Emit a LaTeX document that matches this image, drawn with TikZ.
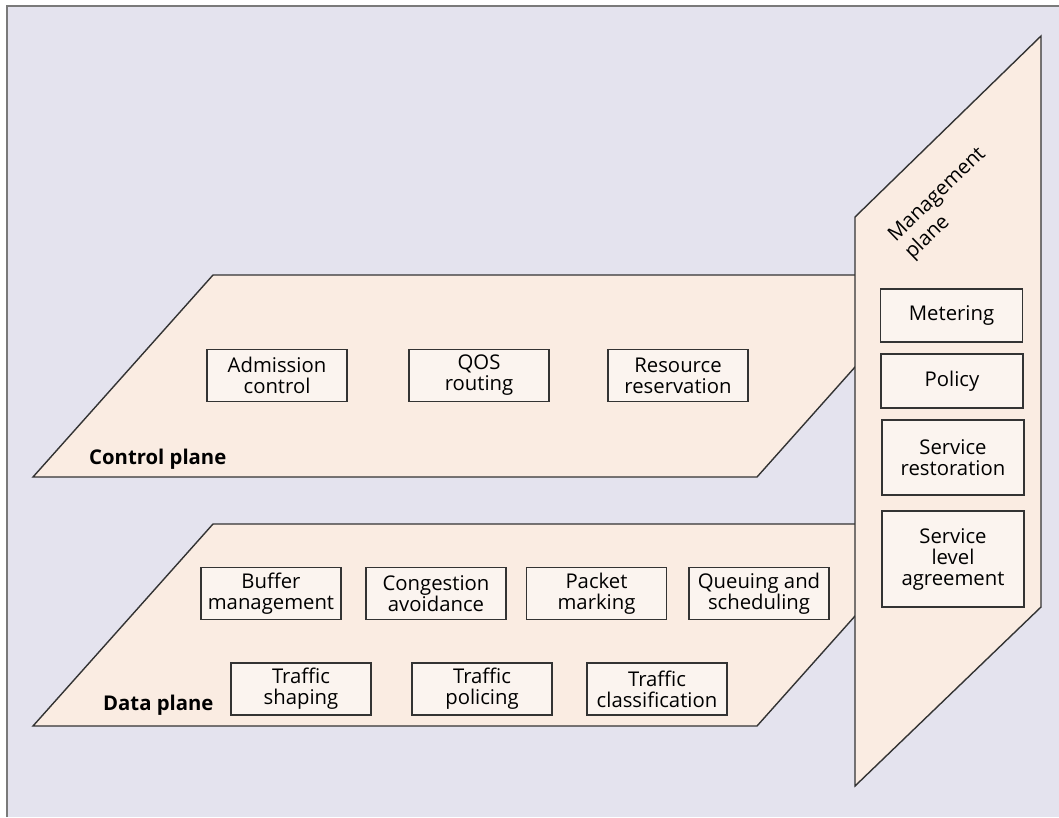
\documentclass[tikz,border=0pt]{standalone}
\usepackage{fontspec}
\setmainfont{Open Sans}
\definecolor{bgc}{HTML}{E4E3EE}
\definecolor{planec}{HTML}{FAECE2}
\definecolor{boxc}{HTML}{FBF4EF}
\definecolor{linec}{HTML}{333333}
\definecolor{framec}{HTML}{7A7A7A}
\tikzset{
  plane/.style={fill=planec, draw=linec, line width=1.4pt, line join=miter},
  fbox/.style={draw=linec, fill=boxc, line width=1.4pt, inner sep=0pt, align=center,
    minimum width=140pt, minimum height=52pt, font=\fontsize{20.3}{21}\selectfont},
  planelabel/.style={inner sep=0pt, font=\fontsize{20.3}{21}\selectfont\bfseries},
}
\begin{document}
\begin{tikzpicture}[x=1pt,y=-1pt]
\useasboundingbox (0,0) rectangle (1059,817);
\fill[bgc] (7,6) rectangle (1059,817);
\draw[framec, line width=2.5pt] (7,817) -- (7,6) -- (1059,6);

% control plane
\draw[plane] (33,477) -- (213,275) -- (937,275) -- (757,477) -- cycle;
% data plane
\draw[plane] (33,726) -- (213,524) -- (937,524) -- (757,726) -- cycle;
% management plane
\draw[plane] (855,217) -- (1041,36) -- (1041,607) -- (855,786) -- cycle;

% control plane boxes
\node[fbox] (adm) at (277,375.5) {Admission\\control};
\node[fbox] (qos) at (479,375.5) {QOS\\routing};
\node[fbox] (res) at (678,375.5) {Resource\\reservation};
\node[planelabel, anchor=base west] (cpl) at (89,464) {Control plane};

% data plane boxes
\node[fbox] (buf) at (271,593.5) {Buffer\\management};
\node[fbox] (con) at (436,593.5) {Congestion\\avoidance};
\node[fbox] (pkt) at (596.5,593.5) {Packet\\marking};
\node[fbox] (que) at (759,593.5) {Queuing and\\scheduling};
\node[fbox] (shp) at (301,689) {Traffic\\shaping};
\node[fbox] (pol) at (482,689) {Traffic\\policing};
\node[fbox] (cls) at (657,689) {Traffic\\classification};
\node[planelabel, anchor=base west] (dpl) at (103,710) {Data plane};

% management plane boxes
\node[fbox, minimum width=142pt, minimum height=53pt] (met) at (951.5,315.5) {Metering};
\node[fbox, minimum width=142pt, minimum height=54pt] (polc) at (952,381) {Policy};
\node[fbox, minimum width=142pt, minimum height=75pt] (rst) at (953,457.5) {Service\\restoration};
\node[fbox, minimum width=142pt, minimum height=96pt] (sla) at (953,559) {Service\\level\\agreement};
\node[inner sep=0pt, align=left, rotate=44, font=\fontsize{20.3}{24}\selectfont] (mpl) at (946,204) {Management\\plane};
\end{tikzpicture}
\end{document}
